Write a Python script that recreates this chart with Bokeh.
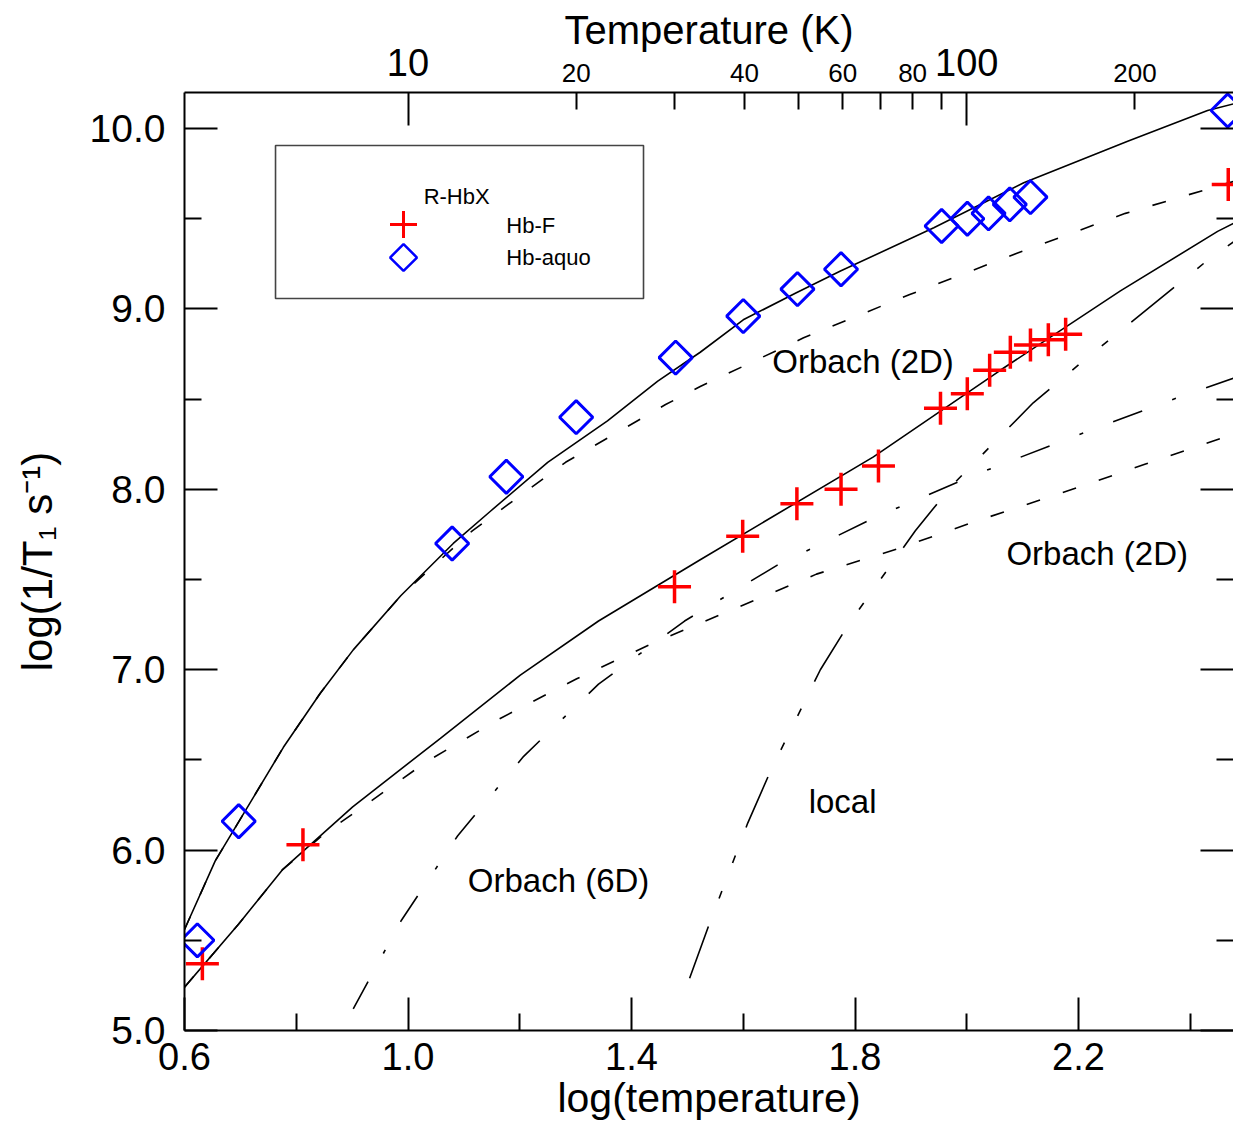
import numpy as np
from bokeh.plotting import figure
from bokeh.models import (LinearAxis, FixedTicker, Range1d, Label, BoxAnnotation,
                          NumeralTickFormatter, CustomJSTickFormatter)
from bokeh.embed import file_html
from bokeh.resources import INLINE

# x is log(temperature), y is log(1/T1 s^-1)
hbf_x = [0.632, 0.812, 1.477, 1.599, 1.696, 1.775, 1.842, 1.953, 2.001, 2.041, 2.078, 2.114, 2.146, 2.177, 2.468]
hbf_y = [5.37, 6.03, 7.46, 7.74, 7.92, 8.00, 8.13, 8.45, 8.53, 8.66, 8.76, 8.80, 8.83, 8.86, 9.69]

aquo_x = [0.623, 0.697, 1.079, 1.176, 1.301, 1.479, 1.600, 1.697, 1.775, 1.955, 2.001, 2.039, 2.077, 2.114, 2.467]
aquo_y = [5.50, 6.16, 7.70, 8.07, 8.40, 8.73, 8.96, 9.11, 9.22, 9.46, 9.50, 9.53, 9.58, 9.62, 10.10]

# fitted curves
aquo_fit_x = [0.600, 0.655, 0.777, 0.843, 0.902, 0.987, 1.081, 1.148, 1.250, 1.357, 1.447, 1.523, 1.600, 1.695, 1.774, 1.941, 2.102, 2.288, 2.431, 2.481]
aquo_fit_y = [5.56, 5.94, 6.57, 6.87, 7.11, 7.41, 7.70, 7.88, 8.15, 8.38, 8.60, 8.76, 8.94, 9.09, 9.21, 9.45, 9.70, 9.93, 10.10, 10.14]

aquo_2d_x = [0.600, 0.655, 0.777, 0.843, 0.902, 0.987, 1.040, 1.115, 1.282, 1.461, 1.523, 1.708, 1.898, 2.091, 2.284, 2.481]
aquo_2d_y = [5.56, 5.94, 6.57, 6.87, 7.11, 7.41, 7.56, 7.77, 8.15, 8.47, 8.57, 8.84, 9.08, 9.31, 9.53, 9.71]

hbf_fit_x = [0.600, 0.697, 0.775, 0.901, 1.058, 1.201, 1.341, 1.523, 1.833, 2.060, 2.275, 2.449, 2.481]
hbf_fit_y = [5.24, 5.59, 5.89, 6.24, 6.62, 6.97, 7.27, 7.61, 8.18, 8.66, 9.10, 9.43, 9.48]

hbf_2d_x = [0.600, 0.697, 0.775, 0.850, 0.910, 1.033, 1.165, 1.302, 1.440, 1.586, 1.731, 1.876, 2.023, 2.170, 2.320, 2.481]
hbf_2d_y = [5.24, 5.59, 5.89, 6.09, 6.22, 6.49, 6.73, 6.95, 7.15, 7.34, 7.53, 7.67, 7.83, 7.98, 8.14, 8.31]

hbf_6d_x = [0.902, 0.988, 1.089, 1.207, 1.341, 1.495, 1.661, 1.833, 2.014, 2.198, 2.379, 2.481]
hbf_6d_y = [5.12, 5.61, 6.08, 6.52, 6.92, 7.27, 7.58, 7.84, 8.08, 8.30, 8.51, 8.62]

local_x = [1.504, 1.538, 1.608, 1.649, 1.738, 1.790, 1.908, 1.973, 2.119, 2.200, 2.431, 2.481]
local_y = [5.29, 5.58, 6.15, 6.44, 7.00, 7.26, 7.77, 8.02, 8.48, 8.69, 9.27, 9.38]

# axis ticks
x_major = [0.6, 1.0, 1.4, 1.8, 2.2]
x_minor = [0.8, 1.2, 1.6, 2.0, 2.4]
y_major = [5.0, 6.0, 7.0, 8.0, 9.0, 10.0]
y_minor = [5.5, 6.5, 7.5, 8.5, 9.5]
top_major_T = [10, 100]
top_minor_T = [20, 30, 40, 50, 60, 70, 80, 90, 200]
top_small_label_T = [20, 40, 60, 80, 200]

FONT = "Liberation Sans"
KELVIN = "return Math.round(Math.pow(10, tick)).toString()"

p = figure(frame_width=1049, frame_height=938,
           x_range=Range1d(0.6, 2.4774), y_range=Range1d(5.0, 10.2),
           output_backend="svg", toolbar_location=None,
           min_border_left=184, min_border_right=0, min_border_top=92, min_border_bottom=93,
           background_fill_color="white", border_fill_color="white")
p.grid.visible = False
p.outline_line_color = None

def style_axis(ax, label_size):
    ax.axis_line_width = 2
    ax.axis_line_color = "black"
    ax.major_tick_line_width = 2
    ax.minor_tick_line_width = 2
    ax.major_tick_out = 0
    ax.minor_tick_out = 0
    ax.major_tick_in = 33
    ax.minor_tick_in = 17
    ax.major_label_text_font = FONT
    ax.major_label_text_font_size = label_size
    ax.major_label_text_color = "black"
    ax.axis_label_text_font = FONT
    ax.axis_label_text_font_size = "42px"
    ax.axis_label_text_font_style = "normal"
    ax.axis_label_text_color = "black"

# bottom axis
xa = p.xaxis[0]
xa.ticker = FixedTicker(ticks=x_major, minor_ticks=x_minor)
xa.formatter = NumeralTickFormatter(format="0.0")
style_axis(xa, "38px")
xa.axis_label_text_font_size = "41px"
xa.major_label_standoff = 12
xa.axis_label = "log(temperature)"
xa.axis_label_standoff = 2

# left axis
ya = p.yaxis[0]
ya.ticker = FixedTicker(ticks=y_major, minor_ticks=y_minor)
ya.formatter = NumeralTickFormatter(format="0.0")
style_axis(ya, "39px")
ya.major_label_standoff = 19
ya.axis_label = "log(1/T\u2081 s\u207b\u00b9)"
ya.axis_label_standoff = 26

# right axis, ticks only
ra = LinearAxis(ticker=FixedTicker(ticks=y_major, minor_ticks=y_minor),
                formatter=CustomJSTickFormatter(code="return ''"))
style_axis(ra, "10px")
ra.major_label_standoff = 0
ra.axis_line_color = None
p.add_layout(ra, "right")

# top axis in kelvin: all ticks and the decade labels
ta = LinearAxis(ticker=FixedTicker(ticks=list(np.log10(top_major_T)),
                                   minor_ticks=list(np.log10(top_minor_T))),
                formatter=CustomJSTickFormatter(code=KELVIN))
style_axis(ta, "38px")
ta.major_label_standoff = 17
p.add_layout(ta, "above")

# second row above: the smaller kelvin labels, pulled down beside the decade labels, and the title
ts = LinearAxis(ticker=FixedTicker(ticks=list(np.log10(top_small_label_T)), minor_ticks=[]),
                formatter=CustomJSTickFormatter(code=KELVIN))
style_axis(ts, "26px")
ts.major_tick_in = 0
ts.axis_line_color = None
ts.major_label_standoff = -36
ts.axis_label = "Temperature (K)"
ts.axis_label_text_font_size = "40px"
ts.axis_label_standoff = 9
p.add_layout(ts, "above")

# curves
p.line(aquo_fit_x, aquo_fit_y, line_color="black", line_width=1.6)
p.line(hbf_fit_x, hbf_fit_y, line_color="black", line_width=1.6)
p.line(aquo_2d_x, aquo_2d_y, line_color="black", line_width=1.6, line_dash="14 24")
p.line(hbf_2d_x, hbf_2d_y, line_color="black", line_width=1.6, line_dash="14 24")
p.line(hbf_6d_x, hbf_6d_y, line_color="black", line_width=1.6, line_dash="31 32 4 32")
p.line(local_x, local_y, line_color="black", line_width=1.6, line_dash="55 30 8 30 8 30")

# data points
p.scatter(hbf_x, hbf_y, marker="cross", size=33, line_color="#ff0000", line_width=3.5)
p.scatter(aquo_x, aquo_y, marker="square", angle=np.pi / 4, size=23.5,
          line_color="#0000ff", fill_color=None, line_width=3)

# curve names
for txt, lx, ly in [("Orbach (2D)", 1.652, 8.708), ("Orbach (2D)", 2.071, 7.644),
                    ("Orbach (6D)", 1.107, 5.832), ("local", 1.717, 6.269)]:
    p.add_layout(Label(x=lx, y=ly, text=txt, text_align="left", text_baseline="middle",
                       text_font=FONT, text_font_size="33px", text_color="black"))

# legend box: frame, heading, keys and names
p.add_layout(BoxAnnotation(left=0.7629, right=1.4215, top=9.9058, bottom=9.0576,
                           fill_color=None, line_color="#444444", line_alpha=1, line_width=1.6))
p.add_layout(Label(x=1.028, y=9.623, text="R-HbX", text_align="left", text_baseline="middle",
                   text_font=FONT, text_font_size="22px", text_color="black"))
p.scatter([0.992], [9.468], marker="cross", size=27, line_color="#ff0000", line_width=3)
p.scatter([0.992], [9.285], marker="square", angle=np.pi / 4, size=19,
          line_color="#0000ff", fill_color=None, line_width=2.5)
for txt, ly in [("Hb-F", 9.462), ("Hb-aquo", 9.285)]:
    p.add_layout(Label(x=1.176, y=ly, text=txt, text_align="left", text_baseline="middle",
                       text_font=FONT, text_font_size="22px", text_color="black"))

open("out.html", "w").write(file_html(p, INLINE))
